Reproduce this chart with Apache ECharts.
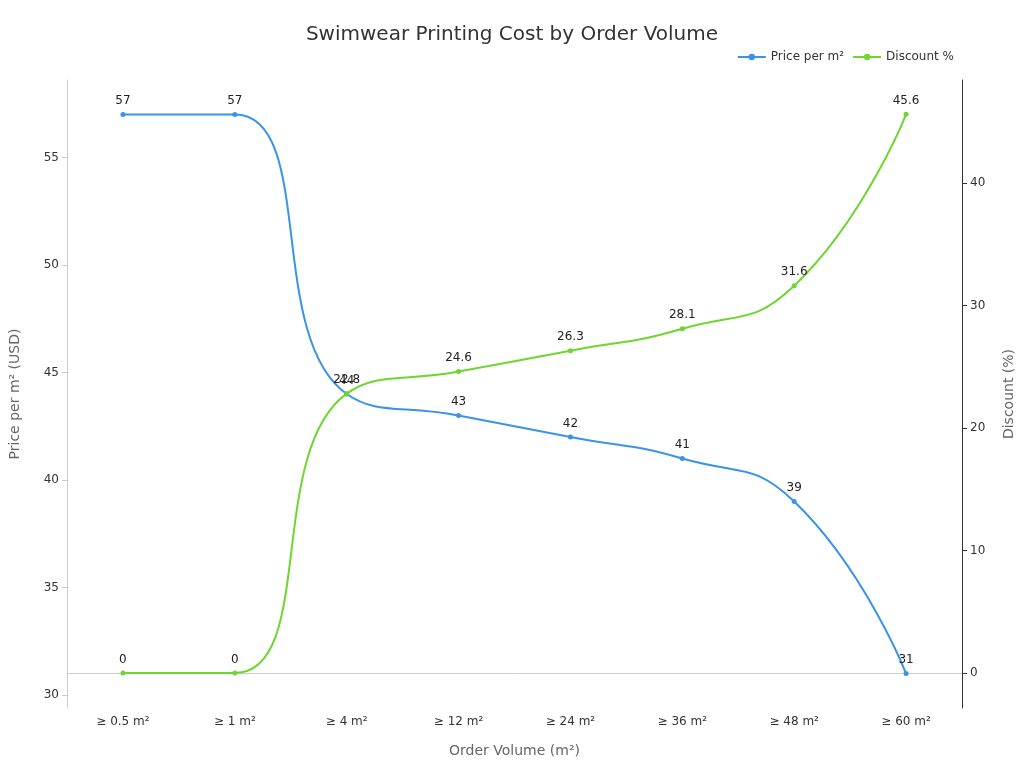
<!DOCTYPE html>
<html>
<head>
    <meta charset="utf-8">
    <title>Swimwear Printing Cost</title>
    <script src="https://cdn.jsdelivr.net/npm/echarts@6/dist/echarts.min.js"></script>
</head>
<body style="margin:0">
    <div id="main" style="width:1024px;height:768px;"></div>
    <script type="text/javascript">
        var categories = ['≥ 0.5 m²', '≥ 1 m²', '≥ 4 m²', '≥ 12 m²', '≥ 24 m²', '≥ 36 m²', '≥ 48 m²', '≥ 60 m²'];
        var price = [57, 57, 44, 43, 42, 41, 39, 31];
        var discount = [0, 0, 22.8, 24.6, 26.3, 28.1, 31.6, 45.6];

        var chart = echarts.init(document.getElementById('main'));
        var font = 'DejaVu Sans';
        chart.setOption({
            animation: false,
            textStyle: { fontFamily: font },
            title: {
                text: 'Swimwear Printing Cost by Order Volume',
                left: 'center', top: 20,
                textStyle: { fontSize: 20, fontWeight: 'normal', color: '#333', fontFamily: font }
            },
            legend: {
                right: 65, top: 46,
                itemWidth: 28, itemHeight: 8,
                textStyle: { fontSize: 12, color: '#333' },
                data: ['Price per m²', 'Discount %']
            },
            grid: { left: 60, right: 61, top: 80, bottom: 60 },
            xAxis: {
                type: 'category',
                data: categories,
                name: 'Order Volume (m²)',
                nameLocation: 'middle', nameGap: 36,
                nameTextStyle: { fontSize: 14, color: '#666' },
                axisTick: { show: false },
                axisLine: { lineStyle: { color: '#ccc' } },
                axisLabel: { color: '#333', fontSize: 12 }
            },
            yAxis: [{
                type: 'value',
                min: 29.4, max: 58.6,
                name: 'Price per m² (USD)',
                nameLocation: 'middle', nameGap: 45,
                nameTextStyle: { fontSize: 14, color: '#666' },
                splitLine: { show: false },
                axisLine: { show: true, lineStyle: { color: '#ccc' } },
                axisTick: { show: true },
                axisLabel: { color: '#333', showMinLabel: false, showMaxLabel: false }
            }, {
                type: 'value',
                min: -2.86, max: 48.4,
                name: 'Discount (%)',
                nameLocation: 'middle', nameGap: 40,
                nameTextStyle: { fontSize: 14, color: '#666' },
                splitLine: { show: false },
                axisLine: { show: true, lineStyle: { color: '#333' } },
                axisTick: { show: true },
                axisLabel: { color: '#333', showMinLabel: false, showMaxLabel: false }
            }],
            series: [{
                name: 'Price per m²',
                type: 'line',
                smooth: true,
                data: price,
                symbol: 'circle', symbolSize: 5,
                itemStyle: { color: '#3a93e8' },
                lineStyle: { width: 2 },
                label: { show: true, position: 'top', color: '#222', fontSize: 12 }
            }, {
                name: 'Discount %',
                type: 'line',
                yAxisIndex: 1,
                smooth: true,
                data: discount,
                symbol: 'circle', symbolSize: 5,
                itemStyle: { color: '#6dd62f' },
                lineStyle: { width: 2 },
                label: { show: true, position: 'top', color: '#222', fontSize: 12 }
            }]
        });
    </script>
</body>
</html>
